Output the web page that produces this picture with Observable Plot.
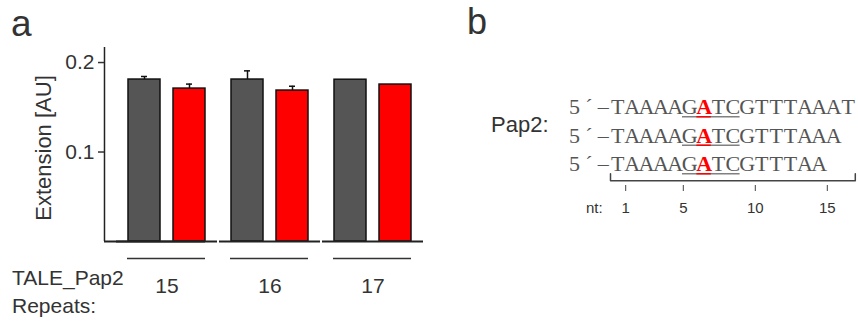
<!DOCTYPE html>
<html><head><meta charset="utf-8">
<script src="https://cdn.jsdelivr.net/npm/d3@7"></script>
<script src="https://cdn.jsdelivr.net/npm/@observablehq/plot@0.6"></script>
<style>
body{margin:0;background:#fff;}
#wrap{position:relative;width:858px;height:321px;overflow:hidden;font-family:"Liberation Sans",Arial,sans-serif;color:#333;}
.lbl{position:absolute;white-space:nowrap;line-height:1;}
.rot{transform:translate(-50%,-50%) rotate(-90deg);}
#pa{position:absolute;left:0;top:0;}
#pb{position:absolute;left:440px;top:0;}
</style></head><body>
<div id="wrap">
  <div id="pa"></div>
  <div id="pb"></div>
  <div class="lbl" style="left:11px;top:4.5px;font-size:37px;">a</div>
  <div class="lbl" style="left:467px;top:3.5px;font-size:36px;">b</div>
  <div class="lbl rot" style="left:44px;top:148px;font-size:22px;">Extension [AU]</div>
  <div class="lbl" style="left:12px;top:263.7px;font-size:21px;line-height:28px;">TALE_Pap2<br>Repeats:</div>
  <div class="lbl" style="left:491px;top:114.4px;font-size:22px;">Pap2:</div>
  <div class="lbl" style="left:586px;top:200.3px;font-size:15px;">nt:</div>
</div>
<script>
// ---- panel a data ----
const repeats = [15, 16, 17];
const conditions = ["control", "variant"];
const barColors = ["#555555", "#ff0000"];
const controlMean = [0.1810, 0.1810, 0.1808];
const controlErr  = [0.0034, 0.0097, 0];
const variantMean = [0.1709, 0.1687, 0.1754];
const variantErr  = [0.0050, 0.0048, 0];
const yTicks = [0.1, 0.2];
const yMax = 0.2168;

// ---- panel b data ----
const seqPrefix = "5´–";
const seqRows = ["TAAAAGATCGTTTAAAT", "TAAAAGATCGTTTAAA", "TAAAAGATCGTTTAA"];
const mutatedNt = 7;
const underlineNt = [6, 9];
const ntTicks = [1, 5, 10, 15];

// ---- build tables ----
const bars = [];
repeats.forEach((r, i) => {
  bars.push({rep: r, cond: conditions[0], mean: controlMean[i], err: controlErr[i]});
  bars.push({rep: r, cond: conditions[1], mean: variantMean[i], err: variantErr[i]});
});
const errBars = bars.filter(d => d.err > 0);
const facets = repeats.map(r => ({rep: r}));

// facet geometry (used to bring the y-axis line to the frame's left edge)
const W = 440, ML = 103, MR = 5;
const fxInner = 0.024, fxOuter = 0.116;
const fxStep = (W - ML - MR) / (repeats.length - fxInner + 2 * fxOuter);
const fxBand = fxStep * (1 - fxInner);
const axisShift = fxStep * fxOuter;

const plotA = Plot.plot({
  width: W, height: 321,
  marginLeft: ML, marginRight: MR, marginTop: 47, marginBottom: 80,
  style: {fontFamily: "Liberation Sans, Arial, sans-serif", color: "#333", background: "transparent", overflow: "visible"},
  fx: {domain: repeats, paddingInner: fxInner, paddingOuter: fxOuter, axis: null, label: null},
  x: {domain: conditions, paddingInner: 0.286, paddingOuter: 0.253, axis: null},
  y: {domain: [0, yMax], axis: null},
  color: {domain: conditions, range: barColors},
  marks: [
    Plot.barY(bars, {fx: "rep", x: "cond", y: "mean", fill: "cond", stroke: "#111", strokeWidth: 1.5}),
    Plot.ruleX(errBars, {fx: "rep", x: "cond", y1: "mean", y2: d => d.mean + d.err, stroke: "#111", strokeWidth: 1.5}),
    Plot.tickY(errBars, {fx: "rep", x: "cond", y: d => d.mean + d.err, stroke: "#111", strokeWidth: 1.5, insetLeft: 13, insetRight: 13}),
    // broken baseline, one piece per group; the first reaches back to the y axis
    Plot.ruleY(facets, {fx: "rep", y: 0, stroke: "#222", strokeWidth: 2}),
    Plot.ruleY(facets.slice(0, 1), {fx: "rep", y: 0, dx: -axisShift, stroke: "#222", strokeWidth: 2}),
    // group underline below the axis
    Plot.ruleY(facets, {fx: "rep", y: 0, dy: 17, insetLeft: 11, insetRight: 12, stroke: "#333", strokeWidth: 1.5}),
    // y axis line
    Plot.ruleX(facets.slice(0, 1), {fx: "rep", x: null, y1: 0, y2: yMax, dx: -(fxBand / 2 + axisShift), stroke: "#222", strokeWidth: 1.5}),
    Plot.axisY(yTicks, {anchor: "left", tickSize: 6, tickPadding: 4, fontSize: 21, dx: -axisShift, strokeWidth: 1.5,
      label: null, tickFormat: d => String(d)}),
    Plot.axisFx({anchor: "bottom", tickSize: 0, tickPadding: 37, fontSize: 21, label: null})
  ]
});
document.getElementById("pa").appendChild(plotA);

// ---- panel b ----
const chars = [];
seqRows.forEach((s, row) => {
  const full = seqPrefix + s;
  [...full].forEach((ch, k) => {
    chars.push({row, ch, nt: k - seqPrefix.length + 1});
  });
});
const rowIdx = seqRows.map((s, i) => i);
const lastRow = seqRows.length - 1;
const maxLen = d3.max(seqRows, s => s.length);
const bracket = [
  {nt: 0.5, y: lastRow + 0.09}, {nt: 0.5, y: lastRow + 0.33},
  {nt: maxLen + 0.5, y: lastRow + 0.33}, {nt: maxLen + 0.5, y: lastRow + 0.09}
];
const seqFont = "Liberation Serif, Times New Roman, serif";

const plotB = Plot.plot({
  width: 418, height: 321,
  marginLeft: 126.8, marginRight: 3.2, marginTop: 99.5, marginBottom: 136,
  style: {fontFamily: "Liberation Sans, Arial, sans-serif", color: "#333", background: "transparent", overflow: "visible"},
  x: {domain: [-2.5, 17.5], axis: null},
  y: {domain: [-0.5, 2.5], reverse: true, axis: null},
  marks: [
    Plot.text(chars.filter(d => d.nt !== mutatedNt), {x: "nt", y: "row", text: "ch", lineAnchor: "bottom",
      fontFamily: seqFont, fontSize: 22, fill: "#555"}),
    Plot.text(chars.filter(d => d.nt === mutatedNt), {x: "nt", y: "row", text: "ch", lineAnchor: "bottom",
      fontFamily: seqFont, fontSize: 22, fontWeight: "bold", fill: "#ff0000"}),
    Plot.ruleY(rowIdx, {y: d => d, x1: underlineNt[0] - 0.5, x2: underlineNt[1] + 0.5, dy: 2.5, stroke: "#808080", strokeWidth: 1.5}),
    Plot.ruleY(rowIdx, {y: d => d, x1: mutatedNt - 0.5, x2: mutatedNt + 0.5, dy: 2.5, stroke: "#ff0000", strokeWidth: 1.5}),
    Plot.line(bracket, {x: "nt", y: "y", stroke: "#444", strokeWidth: 1.5}),
    Plot.axisX(ntTicks, {anchor: "bottom", tickSize: 6, tickPadding: 11, fontSize: 15, dx: 8, label: null, stroke: "#444"})
  ]
});
document.getElementById("pb").appendChild(plotB);
</script>
</body></html>
